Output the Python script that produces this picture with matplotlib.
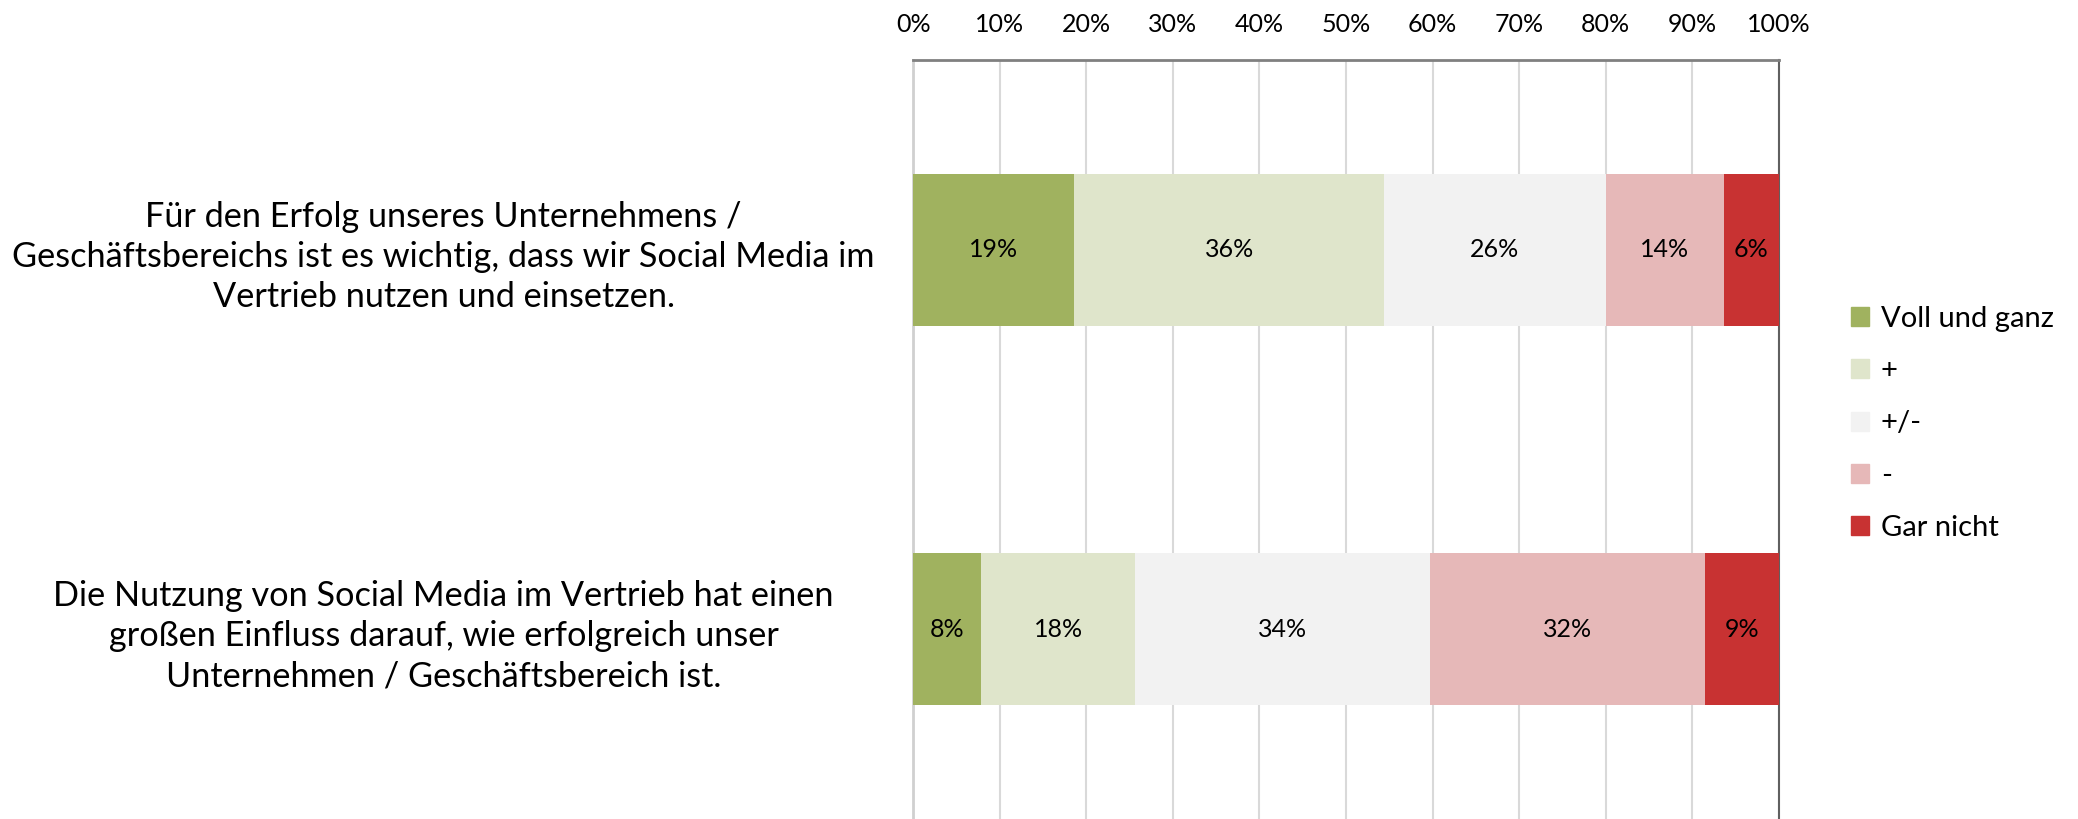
import numpy as np
import matplotlib
matplotlib.use("Agg")
import matplotlib.pyplot as plt
from matplotlib.patches import Patch

plt.rcParams['font.family'] = ['Lato', 'DejaVu Sans']

# data
statements = [
    "Für den Erfolg unseres Unternehmens /\nGeschäftsbereichs ist es wichtig, dass wir Social Media im\nVertrieb nutzen und einsetzen.",
    "Die Nutzung von Social Media im Vertrieb hat einen\ngroßen Einfluss darauf, wie erfolgreich unser\nUnternehmen / Geschäftsbereich ist.",
]
answers = ["Voll und ganz", "+", "+/-", "-", "Gar nicht"]
voll = [18.6, 7.9]
plus = [35.8, 17.7]
neutral = [25.6, 34.1]
minus = [13.6, 31.7]
gar_nicht = [6.4, 8.6]
colors = ["#A0B25F", "#DFE5CB", "#F2F2F2", "#E6B8B8", "#C83232"]
xticks = np.arange(0, 101, 10)

series = [voll, plus, neutral, minus, gar_nicht]

fig = plt.figure(figsize=(20.78, 8.19), dpi=100)
ax = fig.add_axes([0.4394, 0.0, 0.4167, 0.9267])

y = np.arange(len(statements))
left = np.zeros(len(statements))
for vals, col, name in zip(series, colors, answers):
    bars = ax.barh(y, vals, left=left, height=0.4, color=col, label=name, zorder=3)
    ax.bar_label(bars, labels=['{:.0f}%'.format(v) for v in vals],
                 label_type='center', fontsize=18, color='black')
    left += np.array(vals)

ax.set_xlim(0, 100)
ax.set_ylim(1.5, -0.5)
ax.set_xticks(xticks)
ax.set_xticklabels(['{}%'.format(t) for t in xticks])
ax.xaxis.tick_top()
ax.tick_params(axis='x', length=0, pad=17, labelsize=18)
ax.set_yticks(y)
ax.set_yticklabels(statements, ha='center', multialignment='center', fontsize=24.7,
                   linespacing=1.32)
ax.tick_params(axis='y', length=0, pad=338)
ax.grid(axis='x', color='#D9D9D9', lw=1.5, zorder=0)

ax.spines['bottom'].set_visible(False)
ax.spines['top'].set_color('#808080')
ax.spines['top'].set_linewidth(2)
ax.spines['left'].set_color('#D0D0D0')
ax.spines['left'].set_linewidth(2)
ax.spines['right'].set_color('#606060')
ax.spines['right'].set_linewidth(1.5)

handles = [Patch(color=c) for c in colors]
fig.legend(handles, answers, loc='center left', bbox_to_anchor=(0.878, 0.483),
           frameon=False, fontsize=21, handlelength=0.63, handleheight=0.63,
           handletextpad=0.4, labelspacing=0.9)

fig.savefig('out.png', dpi=100)
